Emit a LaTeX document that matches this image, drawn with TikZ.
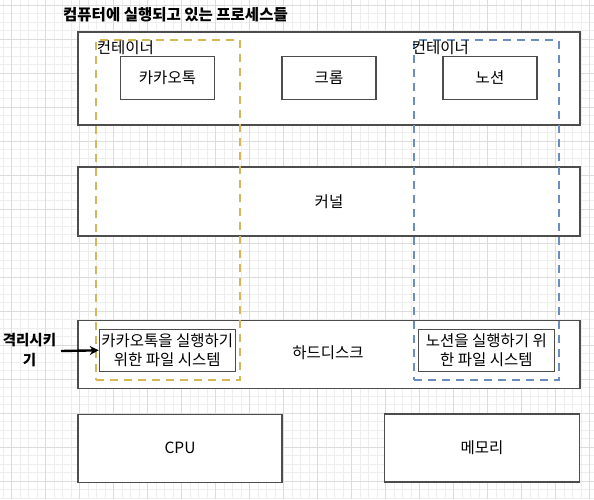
\documentclass[tikz,border=0pt]{standalone}
\usepackage{fontspec}
\setmainfont{Noto Sans CJK KR}
\usetikzlibrary{arrows.meta}
\definecolor{boxline}{HTML}{4D4D4D}
\definecolor{kakaoline}{HTML}{D6B656}
\definecolor{notionline}{HTML}{6C8EBF}
\definecolor{minorline}{HTML}{EEEEEE}
\definecolor{majorline}{HTML}{DCDCDC}
\tikzset{
  minorgrid/.style = { minorline, line width=0.75pt },
  majorgrid/.style = { majorline, line width=0.75pt },
  box/.style       = { draw=boxline, line width=1.1pt, fill=white, rectangle, inner sep=0pt,
                       font=\fontsize{15.5}{19.5}\selectfont, align=center },
  container/.style = { dashed, dash pattern=on 8pt off 6pt, line width=2pt, rectangle, inner sep=0pt },
  label/.style     = { anchor=west, inner sep=0pt, font=\fontsize{15.5}{17}\selectfont },
  isolate/.style   = { -{Stealth[length=9pt,width=9pt]}, line width=2.4pt, black }
}

\begin{document}
\begin{tikzpicture}[x=1pt,y=-1pt]
    \useasboundingbox (0,0) rectangle (594,499);
    \fill[white] (0,0) rectangle (594,499);

    \foreach \gx in {0,...,69} \draw[minorgrid] ({3.2+8.5*\gx},0) -- ({3.2+8.5*\gx},499);
    \foreach \gy in {0,...,58} \draw[minorgrid] (0,{5.3+8.5*\gy}) -- (594,{5.3+8.5*\gy});
    \foreach \gx in {0,...,17} \draw[majorgrid] ({11.7+34*\gx},0) -- ({11.7+34*\gx},499);
    \foreach \gy in {0,...,14} \draw[majorgrid] (0,{5.3+34*\gy}) -- (594,{5.3+34*\gy});

    \node[anchor=center, font=\bfseries\fontsize{15.5}{17}\selectfont] (title) at (175.5,15) {컴퓨터에 실행되고 있는 프로세스들};

    \node[box, minimum width=502pt, minimum height=93pt]   (procs)  at (329,78.5)  {};
    \node[box, minimum width=94pt,  minimum height=42.5pt] (kakao)  at (167.5,78)  {카카오톡};
    \node[box, minimum width=94pt,  minimum height=42.5pt] (chrome) at (329,78)    {크롬};
    \node[box, minimum width=94pt,  minimum height=42.5pt] (notion) at (490,78)    {노션};

    \node[box, minimum width=502pt, minimum height=69pt]   (kernel) at (329,201.5) {커널};

    \node[box, minimum width=502pt, minimum height=68pt]   (hdd)    at (329,354.5) {\hspace*{1pt}};
    \node[font=\fontsize{15.5}{17}\selectfont] (hddtext) at (328,353) {하드디스크};
    \node[box, minimum width=136pt, minimum height=42.5pt] (kakaofs)  at (167.3,350.3) {카카오톡을 실행하기\\위한 파일 시스템};
    \node[box, minimum width=136pt, minimum height=42.5pt] (notionfs) at (486.3,350.3) {노션을 실행하기 위\\한 파일 시스템};

    \node[box, minimum width=204pt, minimum height=68pt]   (cpu)    at (180,448.3) {CPU};
    \node[box, minimum width=195.5pt, minimum height=68pt] (memory) at (482,448)   {메모리};

    \node[container, draw=kakaoline,  minimum width=144pt,   minimum height=340pt] (kakaobox)  at (167.8,210) {};
    \node[container, draw=notionline, minimum width=144.7pt, minimum height=340pt] (notionbox) at (486.3,210) {};
    \node[label] (kakaolabel)  at (96.7,47.5)  {컨테이너};
    \node[label] (notionlabel) at (411.7,47.5) {컨테이너};

    \node[font=\bfseries\fontsize{14.5}{19.5}\selectfont, align=center, inner sep=0pt] (isolation) at (29.5,350) {격리시키\\기};
    \coordinate (isostart) at (61,351);
    \draw[isolate] (isostart) -- (kakaofs.west);
\end{tikzpicture}
\end{document}
